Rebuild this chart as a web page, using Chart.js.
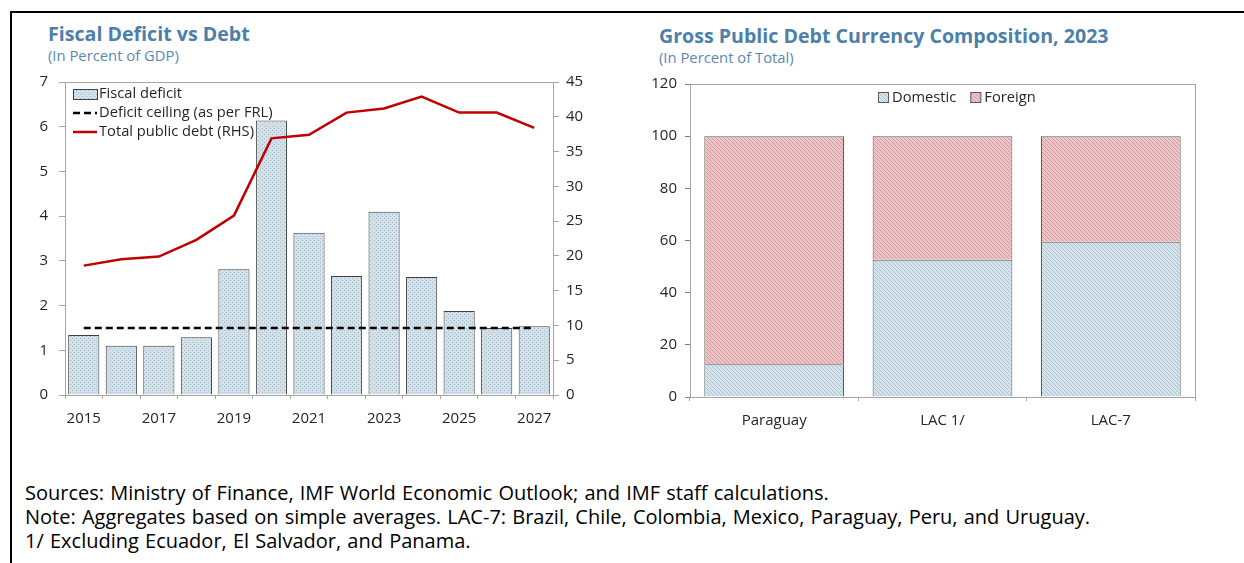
<!DOCTYPE html>
<html>
<head>
<meta charset="utf-8">
<script src="https://cdn.jsdelivr.net/npm/chart.js@4.4.1/dist/chart.umd.min.js"></script>
<style>
  body { margin:0; width:1244px; height:563px; position:relative; background:#fff; font-family:"Open Sans", sans-serif; overflow:hidden; }
  .frame-top { position:absolute; left:10px; top:11px; width:1234px; height:2px; background:#000; }
  .frame-left { position:absolute; left:10px; top:11px; width:2px; height:552px; background:#000; }
  .title { position:absolute; font-weight:700; font-size:19.6px; color:#4d7fab; white-space:nowrap; }
  .sub { position:absolute; font-size:14.8px; color:#5b88b3; white-space:nowrap; }
  .note { position:absolute; left:25px; font-size:20px; word-spacing:1px; color:#000; white-space:nowrap; }
  canvas { position:absolute; }
</style>
</head>
<body>
<div class="frame-top"></div>
<div class="frame-left"></div>

<div class="title" style="left:48px;top:20px;">Fiscal Deficit vs Debt</div>
<div class="sub" style="left:48px;top:45px;">(In Percent of GDP)</div>
<div class="title" style="left:659px;top:22px;">Gross Public Debt Currency Composition, 2023</div>
<div class="sub" style="left:659px;top:47px;">(In Percent of Total)</div>

<canvas id="deficitChart" width="600" height="370" style="left:0;top:70px;"></canvas>
<canvas id="currencyChart" width="600" height="370" style="left:620px;top:70px;"></canvas>

<div class="note" style="top:479px;">Sources: Ministry of Finance, IMF World Economic Outlook; and IMF staff calculations.</div>
<div class="note" style="top:503px;">Note: Aggregates based on simple averages. LAC-7: Brazil, Chile, Colombia, Mexico, Paraguay, Peru, and Uruguay.</div>
<div class="note" style="top:527px;">1/ Excluding Ecuador, El Salvador, and Panama.</div>

<script>
// fiscal deficit vs debt, 2015-2027
const years = ['2015','2016','2017','2018','2019','2020','2021','2022','2023','2024','2025','2026','2027'];
const fiscalDeficit = [1.34, 1.10, 1.10, 1.29, 2.81, 6.14, 3.63, 2.66, 4.10, 2.64, 1.88, 1.50, 1.54];
const deficitCeiling = [1.5, 1.5, 1.5, 1.5, 1.5, 1.5, 1.5, 1.5, 1.5, 1.5, 1.5, 1.5, 1.5];
const publicDebt = [18.6, 19.5, 19.9, 22.3, 25.8, 36.9, 37.4, 40.6, 41.2, 42.9, 40.6, 40.6, 38.4];

// currency composition of gross public debt, 2023
const groups = ['Paraguay', 'LAC 1/', 'LAC-7'];
const domestic = [12.6, 52.6, 59.5];
const foreign = [87.4, 47.4, 40.5];

const leftTicks = [0, 1, 2, 3, 4, 5, 6, 7];
const rightTicks = [0, 5, 10, 15, 20, 25, 30, 35, 40, 45];

const FONT = '"Open Sans", sans-serif';
const TXT = '#262626';
const AXIS = '#a6a6a6';

// small repeating tiles for dotted and hatched fills
function makePattern(bg, fg, kind) {
  const c = document.createElement('canvas');
  c.width = 4; c.height = 4;
  const g = c.getContext('2d');
  g.fillStyle = bg;
  g.fillRect(0, 0, 4, 4);
  g.fillStyle = fg;
  if (kind === 'dots') {
    g.fillRect(0, 0, 1, 1);
    g.fillRect(2, 2, 1, 1);
  } else {
    for (let i = 0; i < 4; i++) g.fillRect(i, i, 1, 1);
  }
  return g.createPattern(c, 'repeat');
}

// keep the plot box exactly where the axis sizes put it
function fixY(w) {
  return s => { s.width = w; s.paddingTop = 0; s.paddingBottom = 0; };
}
function fixX(h) {
  return s => { s.height = h; s.paddingLeft = 0; s.paddingRight = 0; };
}

const ctx0 = document.getElementById('deficitChart').getContext('2d');
const dotFill = makePattern('#d3e1ea', '#a3b6c4', 'dots');
const blueHatch = makePattern('#d6e4ee', '#aebfcc', 'hatch');
const pinkHatch = makePattern('#efc4c6', '#c99a9e', 'hatch');

// light box around the plot area
const plotFrame = {
  id: 'plotFrame',
  afterDraw(chart) {
    const a = chart.chartArea, g = chart.ctx;
    g.save();
    g.strokeStyle = AXIS;
    g.lineWidth = 1;
    g.strokeRect(Math.round(a.left) + 0.5, Math.round(a.top) + 0.5, Math.round(a.right - a.left), Math.round(a.bottom - a.top));
    g.restore();
  }
};

// legend drawn inside the plot, one row per dataset or all in one row
const innerLegend = {
  id: 'innerLegend',
  afterDraw(chart, args, opts) {
    const g = chart.ctx;
    const sets = chart.data.datasets;
    g.save();
    g.font = '14.7px ' + FONT;
    g.fillStyle = TXT;
    g.textBaseline = 'middle';
    if (opts.layout === 'rows') {
      let y = opts.y;
      sets.forEach(ds => {
        const x = opts.x;
        if (ds.type === 'line') {
          g.strokeStyle = ds.borderColor;
          g.lineWidth = ds.borderWidth;
          g.setLineDash(ds.borderDash || []);
          g.beginPath(); g.moveTo(x, y); g.lineTo(x + 24, y); g.stroke();
          g.setLineDash([]);
        } else {
          g.fillStyle = ds.backgroundColor;
          g.fillRect(x, y - 5, 24, 10);
          g.strokeStyle = '#404040'; g.lineWidth = 1;
          g.strokeRect(x + 0.5, y - 4.5, 24, 10);
        }
        g.fillStyle = TXT;
        g.fillText(ds.label, x + 26, y);
        y += opts.step;
      });
    } else {
      let x = opts.x;
      sets.forEach(ds => {
        g.fillStyle = ds.backgroundColor;
        g.fillRect(x, opts.y - 5, 11, 11);
        g.strokeStyle = '#595959'; g.lineWidth = 1;
        g.strokeRect(x + 0.5, opts.y - 4.5, 10, 10);
        g.fillStyle = TXT;
        g.fillText(ds.label, x + 14, opts.y + 1);
        x += 14 + g.measureText(ds.label).width + 14;
      });
    }
    g.restore();
  }
};

const tickFont = { family: FONT, size: 15 };

new Chart(ctx0, {
  type: 'bar',
  data: {
    labels: years,
    datasets: [
      { type: 'bar', label: 'Fiscal deficit', data: fiscalDeficit, yAxisID: 'y',
        backgroundColor: dotFill, borderColor: '#404040', borderWidth: 1,
        categoryPercentage: 1, barPercentage: 0.83, order: 3 },
      { type: 'line', label: 'Deficit ceiling (as per FRL)', data: deficitCeiling, yAxisID: 'y',
        borderColor: '#000', borderWidth: 2.5, borderDash: [7, 4], pointRadius: 0, order: 2 },
      { type: 'line', label: 'Total public debt (RHS)', data: publicDebt, yAxisID: 'y1',
        borderColor: '#c00000', borderWidth: 2.5, pointRadius: 0, tension: 0, order: 1 }
    ]
  },
  options: {
    responsive: false,
    devicePixelRatio: 1,
    animation: false,
    layout: { padding: { top: 12, left: 0, right: 0, bottom: 0 } },
    plugins: {
      legend: { display: false },
      tooltip: { enabled: false },
      innerLegend: { layout: 'rows', x: 73, y: 24, step: 19 }
    },
    scales: {
      x: {
        offset: true,
        grid: { offset: true, drawOnChartArea: false, color: AXIS, tickLength: 4 },
        border: { color: AXIS },
        ticks: { color: TXT, font: tickFont, padding: 11, maxRotation: 0, autoSkip: false,
          callback: (v, i) => (i % 2 === 0 ? years[i] : '') },
        afterFit: fixX(45)
      },
      y: {
        position: 'left', min: 0, max: 7,
        afterBuildTicks: s => { s.ticks = leftTicks.map(v => ({ value: v })); },
        grid: { drawOnChartArea: false, color: AXIS, tickLength: 6 },
        border: { color: AXIS },
        ticks: { color: TXT, font: tickFont, padding: 11 },
        afterFit: fixY(65)
      },
      y1: {
        position: 'right', min: 0, max: 45,
        afterBuildTicks: s => { s.ticks = rightTicks.map(v => ({ value: v })); },
        grid: { drawOnChartArea: false, color: AXIS, tickLength: 6 },
        border: { color: AXIS },
        ticks: { color: TXT, font: tickFont, padding: 7 },
        afterFit: fixY(47)
      }
    }
  },
  plugins: [plotFrame, innerLegend]
});

const ctx1 = document.getElementById('currencyChart').getContext('2d');
new Chart(ctx1, {
  type: 'bar',
  data: {
    labels: groups,
    datasets: [
      { label: 'Domestic', data: domestic, backgroundColor: blueHatch, borderColor: '#595959', borderWidth: 1,
        categoryPercentage: 1, barPercentage: 0.83 },
      { label: 'Foreign', data: foreign, backgroundColor: pinkHatch, borderColor: '#595959', borderWidth: 1,
        categoryPercentage: 1, barPercentage: 0.83 }
    ]
  },
  options: {
    responsive: false,
    devicePixelRatio: 1,
    animation: false,
    layout: { padding: { top: 14, left: 0, right: 25, bottom: 0 } },
    plugins: {
      legend: { display: false },
      tooltip: { enabled: false },
      innerLegend: { layout: 'row', x: 258, y: 27 }
    },
    scales: {
      x: {
        stacked: true,
        grid: { offset: true, drawOnChartArea: false, color: AXIS, tickLength: 4 },
        border: { color: '#7f7f7f' },
        ticks: { color: TXT, font: tickFont, padding: 11, maxRotation: 0 },
        afterFit: fixX(43)
      },
      y: {
        stacked: true, min: 0, max: 120,
        ticks: { stepSize: 20, color: TXT, font: tickFont, padding: 8 },
        grid: { drawOnChartArea: false, color: '#7f7f7f', tickLength: 5 },
        border: { color: '#7f7f7f' },
        afterFit: fixY(70)
      }
    }
  },
  plugins: [plotFrame, innerLegend]
});
</script>
</body>
</html>
